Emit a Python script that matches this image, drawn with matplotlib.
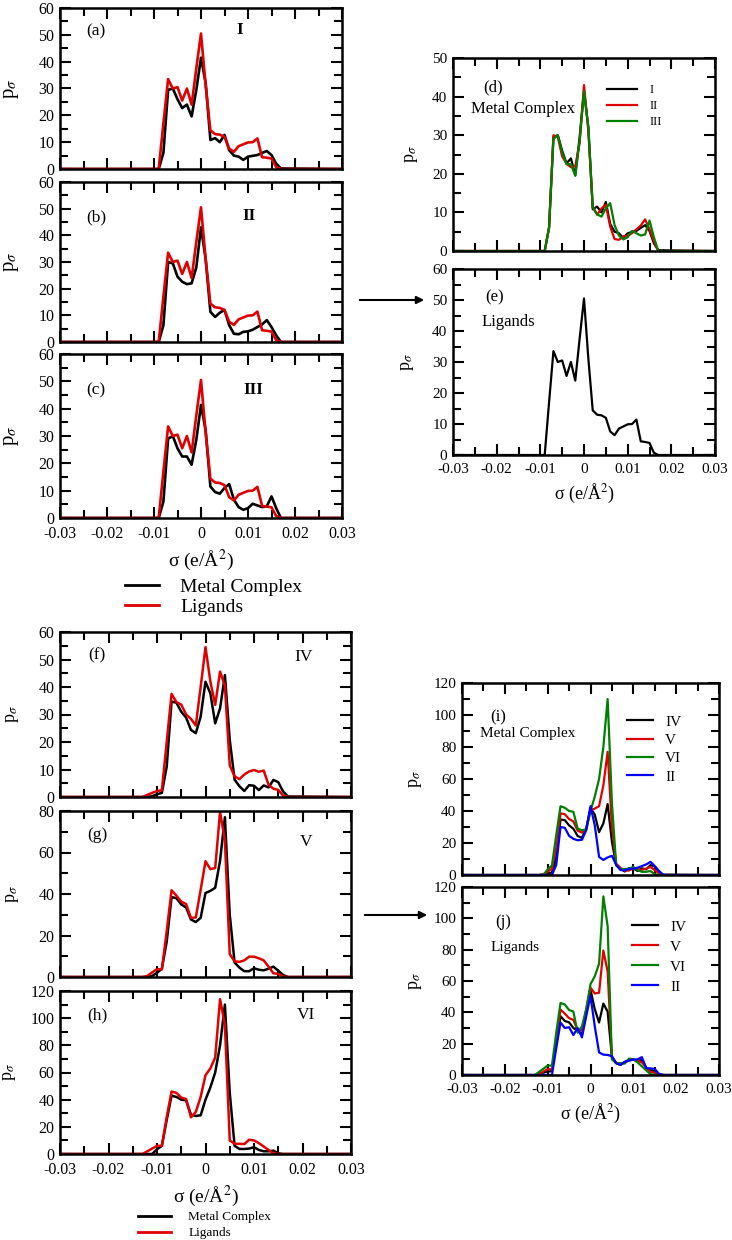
import matplotlib
matplotlib.use("Agg")
import matplotlib.pyplot as plt
from matplotlib.lines import Line2D
from matplotlib.patches import FancyArrowPatch
from matplotlib.ticker import MultipleLocator, FuncFormatter

plt.rcParams["font.family"] = "serif"
plt.rcParams["font.serif"] = ["Liberation Serif", "DejaVu Serif"]
plt.rcParams["mathtext.fontset"] = "stix"

W, H = 732, 1240
RED = "#e00000"
GREEN = "#008000"
BLUE = "#0000ff"

# sigma grid (e/A^2)
sigma = [-0.030, -0.013, -0.012, -0.011, -0.010, -0.009, -0.008, -0.007, -0.006,
         -0.005, -0.004, -0.003, -0.002, -0.001, 0.000, 0.001, 0.002, 0.003,
         0.004, 0.005, 0.006, 0.007, 0.008, 0.009, 0.010, 0.011, 0.012, 0.013,
         0.014, 0.015, 0.016, 0.017, 0.030]

# metal complexes I-III
mc_I = [0, 0, 0, 0, 0, 0, 6, 29.5, 30, 26, 22.7, 24, 19.6, 29.5, 41.5, 32, 10.8,
        11.5, 10, 12.7, 7, 5, 4.6, 3.4, 4.6, 4.9, 5.2, 6, 6.7, 5.2, 2, 0.2, 0]
mc_II = [0, 0, 0, 0, 0, 0, 6.3, 30, 29.5, 24.5, 22.6, 21.7, 22, 28, 43, 31, 11.3,
         9.4, 11, 12, 6.3, 3.1, 2.9, 3.8, 4, 4.6, 5.6, 6.6, 8.2, 5.6, 2.5, 0, 0]
mc_III = [0, 0, 0, 0, 0, 0, 6, 29, 30, 25.5, 22.5, 22.5, 19.5, 28.6, 41.4, 32,
          11.5, 9.5, 8.9, 11, 12.4, 6.7, 4, 3, 3.6, 5.2, 4.6, 4, 4.3, 7.9, 3.6, 0, 0]
# free ligands (same for I-III)
lig_I = [0, 0, 0, 0, 0, 0, 17, 33.5, 30, 30.5, 25.5, 30, 24, 37.5, 50.5, 31, 14.4,
         13, 12.8, 12, 7.6, 6.4, 8.5, 9.2, 9.9, 10, 11.4, 4.4, 4.2, 3.9, 0.7, 0, 0]

# metal complexes / ligands IV-VI
mc_IV = [0, 0, 0, 0.3, 1, 1.5, 11, 34.7, 34.3, 31, 28.9, 24.4, 23.2, 29.2, 41.9,
         37.7, 26.8, 32.2, 44.3, 20.8, 6.3, 3.9, 2.2, 4.3, 4.1, 2.5, 4.2, 3.5, 6.2,
         5.4, 2, 0.2, 0]
lig_IV = [0, 0, 0.8, 1.5, 2.2, 2.4, 20, 37.5, 34.5, 33.6, 30, 28.4, 26, 40, 54.5,
          42, 33.5, 45.6, 40.5, 11.5, 7.5, 6.5, 8.2, 9.3, 9.8, 9.2, 9.6, 4.5, 3,
          2.6, 0.5, 0, 0]
mc_V = [0, 0, 0, 0.5, 2, 4, 17, 38.5, 38, 35, 33.5, 27.7, 26.5, 28.5, 40.5, 41.5,
        43, 56, 77, 30, 7, 4.5, 2.8, 2.8, 4.2, 3.5, 3.2, 4, 5, 3, 1, 0, 0]
lig_V = [0, 0, 0.5, 2.2, 3.8, 3.6, 22, 41.8, 39.2, 36.3, 35.2, 28.5, 28.7, 42,
         55.8, 52, 52.5, 79.5, 66, 11, 7.5, 7.3, 8, 9.8, 9.8, 9, 8, 5, 1.8, 1.5,
         0.3, 0, 0]
mc_VI = [0, 0, 0, 0, 3.5, 6, 25, 43, 42, 40, 39.5, 29, 28, 28.5, 40, 49, 60, 80,
         110, 45, 6, 3.7, 3.7, 4, 5, 3, 2, 2, 2.5, 0.5, 0, 0, 0]
lig_VI = [0, 0, 2, 4, 6, 6, 27, 46, 45, 41.5, 40.5, 27, 31, 42, 58, 63, 71, 114,
          95, 10, 7.5, 7.5, 7.3, 10.5, 10, 8, 5.5, 3, 0.5, 0, 0, 0, 0]

roman_top = ["I", "II", "III"]
roman_bot = ["IV", "V", "VI"]


def rect(l, t, r, b):
    return [l / W, 1 - b / H, (r - l) / W, (b - t) / H]


def fpos(x, y):
    return (x / W, 1 - y / H)


def xfmt(v, pos):
    if abs(v) < 1e-9:
        return "0"
    return "%.2f" % v


def style(ax, ymax, ymaj, ymin, show_x, fs=10, ylab_x=-0.17, ylab_fs=12):
    ax.set_xlim(-0.03, 0.03)
    ax.set_ylim(0, ymax)
    ax.xaxis.set_major_locator(MultipleLocator(0.01))
    ax.xaxis.set_minor_locator(MultipleLocator(0.005))
    ax.yaxis.set_major_locator(MultipleLocator(ymaj))
    ax.yaxis.set_minor_locator(MultipleLocator(ymin))
    ax.xaxis.set_major_formatter(FuncFormatter(xfmt))
    ax.tick_params(which="both", direction="in", top=True, right=True,
                   width=1.5, labelsize=fs)
    ax.tick_params(which="major", length=8, pad=4)
    ax.tick_params(axis="x", which="major", pad=6)
    ax.tick_params(which="minor", length=5.5)
    for s in ax.spines.values():
        s.set_linewidth(1.8)
    if not show_x:
        ax.tick_params(labelbottom=False)
    ax.set_ylabel(r"p$_{\sigma}$", fontsize=ylab_fs)
    ax.yaxis.set_label_coords(ylab_x, 0.5)


fig = plt.figure(figsize=(W / 100, H / 100), dpi=100)

# ---- panels (a)-(c)
top_rects = [(60, 8, 342, 169), (60, 182, 342, 342), (60, 354, 342, 518)]
top_mc = [mc_I, mc_II, mc_III]
top_tags = [("(a)", (96, 31), (240, 30)), ("(b)", (96, 217), (249, 216)),
            ("(c)", (96, 390), (253, 390))]
for i, (r, mc) in enumerate(zip(top_rects, top_mc)):
    ax = fig.add_axes(rect(*r))
    ax.plot(sigma, mc, color="black", lw=1.9)
    ax.plot(sigma, lig_I, color=RED, lw=1.9)
    style(ax, 60, 10, 5, i == 2, fs=11.5, ylab_x=-0.14, ylab_fs=15)
    tag, p1, p2 = top_tags[i]
    fig.text(*fpos(*p1), tag, fontsize=12.5, ha="center", va="center")
    fig.text(*fpos(*p2), roman_top[i], fontsize=12.5, ha="center", va="center",
             fontweight="bold")
    if i == 2:
        ax.set_xlabel(r"σ (e/Å$^2$)", fontsize=14, labelpad=4)

fig.legend(handles=[Line2D([], [], color="black", lw=2),
                    Line2D([], [], color=RED, lw=2)],
           labels=["Metal Complex", "Ligands"], loc="upper left",
           bbox_to_anchor=fpos(125, 578), frameon=False, fontsize=14,
           handlelength=1.75, handletextpad=1.1, labelspacing=0.12,
           borderpad=0, borderaxespad=0)

# ---- panel (d)
ax = fig.add_axes(rect(453, 58, 715, 251))
for mc, c, lab in zip(top_mc, ["black", RED, GREEN], roman_top):
    ax.plot(sigma, mc, color=c, lw=1.6, label=lab)
style(ax, 50, 10, 5, False, fs=11, ylab_x=-0.126, ylab_fs=13)
ax.legend(loc="upper left", bbox_to_anchor=fpos(607, 84),
          bbox_transform=fig.transFigure, frameon=False, fontsize=9,
          handlelength=2.4, handletextpad=1.0, labelspacing=0.33,
          borderpad=0, borderaxespad=0)
fig.text(*fpos(493, 87), "(d)", fontsize=12, ha="center", va="center")
fig.text(*fpos(523, 109), "Metal Complex", fontsize=12, ha="center", va="center")

# ---- panel (e)
ax = fig.add_axes(rect(453, 269, 715, 455))
ax.plot(sigma, lig_I, color="black", lw=1.6)
style(ax, 60, 10, 5, True, fs=11, ylab_x=-0.14, ylab_fs=13)
ax.set_xlabel(r"σ (e/Å$^2$)", fontsize=13, labelpad=4)
fig.text(*fpos(495, 297), "(e)", fontsize=12, ha="center", va="center")
fig.text(*fpos(508, 322), "Ligands", fontsize=12, ha="center", va="center")

# ---- panels (f)-(h)
bot_rects = [(60, 632, 351, 797), (60, 811, 351, 977), (60, 991, 351, 1154)]
bot_mc = [mc_IV, mc_V, mc_VI]
bot_lig = [lig_IV, lig_V, lig_VI]
bot_y = [(60, 10, 5), (80, 20, 10), (120, 20, 10)]
bot_tags = [("(f)", (97, 655), (304, 657)), ("(g)", (97, 835), (306, 842)),
            ("(h)", (97, 1015), (306, 1015))]
bot_ylab = [-0.134, -0.134, -0.145]
for i in range(3):
    ax = fig.add_axes(rect(*bot_rects[i]))
    ax.plot(sigma, bot_mc[i], color="black", lw=1.8)
    ax.plot(sigma, bot_lig[i], color=RED, lw=1.8)
    style(ax, *bot_y[i], i == 2, fs=11.5, ylab_x=bot_ylab[i], ylab_fs=13)
    tag, p1, p2 = bot_tags[i]
    fig.text(*fpos(*p1), tag, fontsize=12.5, ha="center", va="center")
    fig.text(*fpos(*p2), roman_bot[i], fontsize=12.5, ha="center", va="center")
    if i == 2:
        ax.set_xlabel(r"σ (e/Å$^2$)", fontsize=14, labelpad=4)

fig.legend(handles=[Line2D([], [], color="black", lw=2),
                    Line2D([], [], color=RED, lw=2)],
           labels=["Metal Complex", "Ligands"], loc="upper left",
           bbox_to_anchor=fpos(138, 1211), frameon=False, fontsize=9.5,
           handlelength=2.5, handletextpad=1.3, labelspacing=0.3,
           borderpad=0, borderaxespad=0)

# ---- panels (i) and (j)
comp_labels = ["IV", "V", "VI", "II"]
comp_colors = ["black", RED, GREEN, BLUE]
sets = [
    ((462, 683, 719, 875), [mc_IV, mc_V, mc_VI, mc_II], "(i)", (498, 717),
     "Metal Complex", (528, 734), (627, 715), 0.3, False),
    ((462, 887, 719, 1075), [lig_IV, lig_V, lig_VI, lig_I], "(j)", (503, 922),
     "Ligands", (515, 947), (632, 920), 0.41, True),
]
for r, series, tag, tp, name, npos, lpos, lsp, show_x in sets:
    ax = fig.add_axes(rect(*r))
    for s, c, lab in zip(series, comp_colors, comp_labels):
        ax.plot(sigma, s, color=c, lw=1.6, label=lab)
    style(ax, 120, 20, 10, show_x, fs=11, ylab_x=-0.148, ylab_fs=13)
    ax.legend(loc="upper left", bbox_to_anchor=fpos(*lpos),
              bbox_transform=fig.transFigure, frameon=False, fontsize=11,
              handlelength=1.7, handletextpad=0.8, labelspacing=lsp,
              borderpad=0, borderaxespad=0)
    fig.text(*fpos(*tp), tag, fontsize=12, ha="center", va="center")
    fig.text(*fpos(*npos), name, fontsize=11, ha="center", va="center")
    if show_x:
        ax.set_xlabel(r"σ (e/Å$^2$)", fontsize=13, labelpad=4)

# arrows between the columns
for a, b in [((357, 300), (427, 300)), ((362, 915), (430, 915))]:
    fig.add_artist(FancyArrowPatch(fpos(*a), fpos(*b), transform=fig.transFigure,
                                   arrowstyle="-|>", mutation_scale=11,
                                   lw=1.5, color="black"))

fig.savefig("out.png", dpi=100)
